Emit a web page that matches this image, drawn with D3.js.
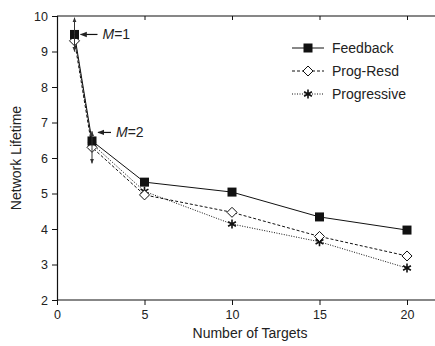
<!DOCTYPE html>
<html lang="en">
<head>
  <meta charset="UTF-8">
  <script src="https://d3js.org/d3.v7.min.js"></script>
  <title>Network Lifetime</title>
  <style>
    body { margin: 0; background: #fff; }
    text { font-family: "Liberation Sans", Arial, sans-serif; fill: #222; }
  </style>
</head>
<body>
  <script>
    const targets = [1, 2, 5, 10, 15, 20]
    const feedback = [9.48, 6.48, 5.32, 5.04, 4.34, 3.97]
    const progResd = [9.30, 6.30, 4.96, 4.47, 3.79, 3.24]
    const progressive = [9.40, 6.40, 5.06, 4.14, 3.64, 2.90]
    const seriesNames = ["Feedback", "Prog-Resd", "Progressive"]
    const xTicks = [0, 5, 10, 15, 20]
    const yTicks = [2, 3, 4, 5, 6, 7, 8, 9, 10]
    // spread arrows at M=1 and M=2: [x, low, high]
    const spreads = [[1, 9.0, 9.95], [2, 5.85, 6.75]]

    const width = 435, height = 346

    const svg = d3.select("body").append("svg")
        .attr("width", width)
        .attr("height", height)

    const x = d3.scaleLinear().domain([0, 22]).range([57, 442])
    const y = d3.scaleLinear().domain([2, 10]).range([300, 16])

    const defs = svg.append("defs")
    defs.append("marker")
        .attr("id", "arr")
        .attr("viewBox", "0 0 10 10")
        .attr("refX", 9).attr("refY", 5)
        .attr("markerWidth", 7).attr("markerHeight", 7)
        .attr("markerUnits", "userSpaceOnUse")
        .attr("orient", "auto-start-reverse")
      .append("path")
        .attr("d", "M0,1 L10,5 L0,9 Z")
        .attr("fill", "#222")
    defs.append("marker")
        .attr("id", "arrSmall")
        .attr("viewBox", "0 0 10 10")
        .attr("refX", 9).attr("refY", 5)
        .attr("markerWidth", 5).attr("markerHeight", 5)
        .attr("markerUnits", "userSpaceOnUse")
        .attr("orient", "auto-start-reverse")
      .append("path")
        .attr("d", "M0,1 L10,5 L0,9 Z")
        .attr("fill", "#333")

    // axes
    const xAxis = svg.append("g")
        .attr("transform", `translate(0, ${y(2)})`)
        .call(d3.axisBottom(x).tickValues(xTicks).tickSize(5).tickPadding(5))
    const yAxis = svg.append("g")
        .attr("transform", `translate(${x(0)}, 0)`)
        .call(d3.axisLeft(y).tickValues(yTicks).tickSize(5).tickPadding(4))
    const topAxis = svg.append("g")
        .attr("transform", `translate(0, ${y(10)})`)
        .call(d3.axisBottom(x).tickValues(xTicks).tickSize(4).tickFormat(""))

    ;[xAxis, yAxis, topAxis].forEach(g => {
      g.select(".domain").attr("stroke", "#111").attr("stroke-width", 1.2)
      g.selectAll(".tick line").attr("stroke", "#111")
      g.selectAll(".tick text").style("font-size", "12.5px")
        .style("font-family", "'Liberation Sans', Arial, sans-serif").attr("fill", "#222")
    })
    topAxis.select(".domain").attr("d", `M${x(0)},0H${x(22)}`)
    xAxis.select(".domain").attr("d", `M${x(0)},0H${x(22)}`)

    svg.append("text")
        .attr("x", 250).attr("y", 338)
        .attr("text-anchor", "middle")
        .style("font-size", "14px")
        .text("Number of Targets")
    svg.append("text")
        .attr("transform", `translate(21, ${(y(2) + y(10)) / 2}) rotate(-90)`)
        .attr("text-anchor", "middle")
        .style("font-size", "14px")
        .text("Network Lifetime")

    const series = [
      { name: seriesNames[0], values: feedback, dash: null, mark: "square" },
      { name: seriesNames[1], values: progResd, dash: "3,2", mark: "diamond" },
      { name: seriesNames[2], values: progressive, dash: "1,1.5", mark: "star" }
    ]

    const line = d3.line()
        .x((d, i) => x(targets[i]))
        .y(d => y(d))

    function drawMark(g, type, cx, cy) {
      if (type === "square") {
        g.append("rect")
            .attr("x", cx - 4.5).attr("y", cy - 4.5)
            .attr("width", 9).attr("height", 9)
            .attr("fill", "#111")
      } else if (type === "diamond") {
        g.append("path")
            .attr("d", `M${cx},${cy - 5}L${cx + 5},${cy}L${cx},${cy + 5}L${cx - 5},${cy}Z`)
            .attr("fill", "#fff").attr("stroke", "#111").attr("stroke-width", 1)
      } else {
        const r = 4.5
        const p = [[0, -r], [0, r], [-r * 0.87, -r / 2], [r * 0.87, r / 2], [-r * 0.87, r / 2], [r * 0.87, -r / 2]]
        g.append("path")
            .attr("d", `M${cx + p[0][0]},${cy + p[0][1]}L${cx + p[1][0]},${cy + p[1][1]}` +
                       `M${cx + p[2][0]},${cy + p[2][1]}L${cx + p[3][0]},${cy + p[3][1]}` +
                       `M${cx + p[4][0]},${cy + p[4][1]}L${cx + p[5][0]},${cy + p[5][1]}`)
            .attr("stroke", "#111").attr("stroke-width", 1.6)
      }
    }

    // draw in reverse so Feedback is on top
    series.slice().reverse().forEach(s => {
      svg.append("path")
          .attr("d", line(s.values))
          .attr("fill", "none")
          .attr("stroke", "#111")
          .attr("stroke-width", 1)
          .attr("stroke-dasharray", s.dash)
    })
    series.slice().reverse().forEach(s => {
      const g = svg.append("g")
      s.values.forEach((v, i) => drawMark(g, s.mark, x(targets[i]), y(v)))
    })

    // vertical spread arrows
    spreads.forEach(([t, lo, hi]) => {
      const cx = x(t), mid = y((lo + hi) / 2)
      svg.append("line")
          .attr("x1", cx).attr("x2", cx).attr("y1", mid).attr("y2", y(hi))
          .attr("stroke", "#333").attr("stroke-width", 1)
          .attr("marker-end", "url(#arrSmall)")
      svg.append("line")
          .attr("x1", cx).attr("x2", cx).attr("y1", mid).attr("y2", y(lo))
          .attr("stroke", "#333").attr("stroke-width", 1)
          .attr("marker-end", "url(#arrSmall)")
    })

    // M annotations
    const notes = [
      { t: 1, v: 9.48, label: "1", len: 17 },
      { t: 2, v: 6.72, label: "2", len: 13 }
    ]
    notes.forEach(n => {
      const tip = x(n.t) + 6, cy = y(n.v)
      svg.append("line")
          .attr("x1", tip + n.len).attr("x2", tip)
          .attr("y1", cy).attr("y2", cy)
          .attr("stroke", "#111").attr("stroke-width", 1.2)
          .attr("marker-end", "url(#arr)")
      const tx = svg.append("text")
          .attr("x", tip + n.len + 5).attr("y", cy + 5)
          .style("font-size", "14px")
      tx.append("tspan").style("font-style", "italic").text("M")
      tx.append("tspan").text("=" + n.label)
    })

    // legend
    const legend = svg.append("g")
    series.forEach((s, i) => {
      const ly = 48 + i * 23
      legend.append("line")
          .attr("x1", 292).attr("x2", 324)
          .attr("y1", ly).attr("y2", ly)
          .attr("stroke", "#111").attr("stroke-width", 1)
          .attr("stroke-dasharray", s.dash)
      drawMark(legend, s.mark, 308, ly)
      legend.append("text")
          .attr("x", 332).attr("y", ly + 5)
          .style("font-size", "14px")
          .text(s.name)
    })
  </script>
</body>
</html>
